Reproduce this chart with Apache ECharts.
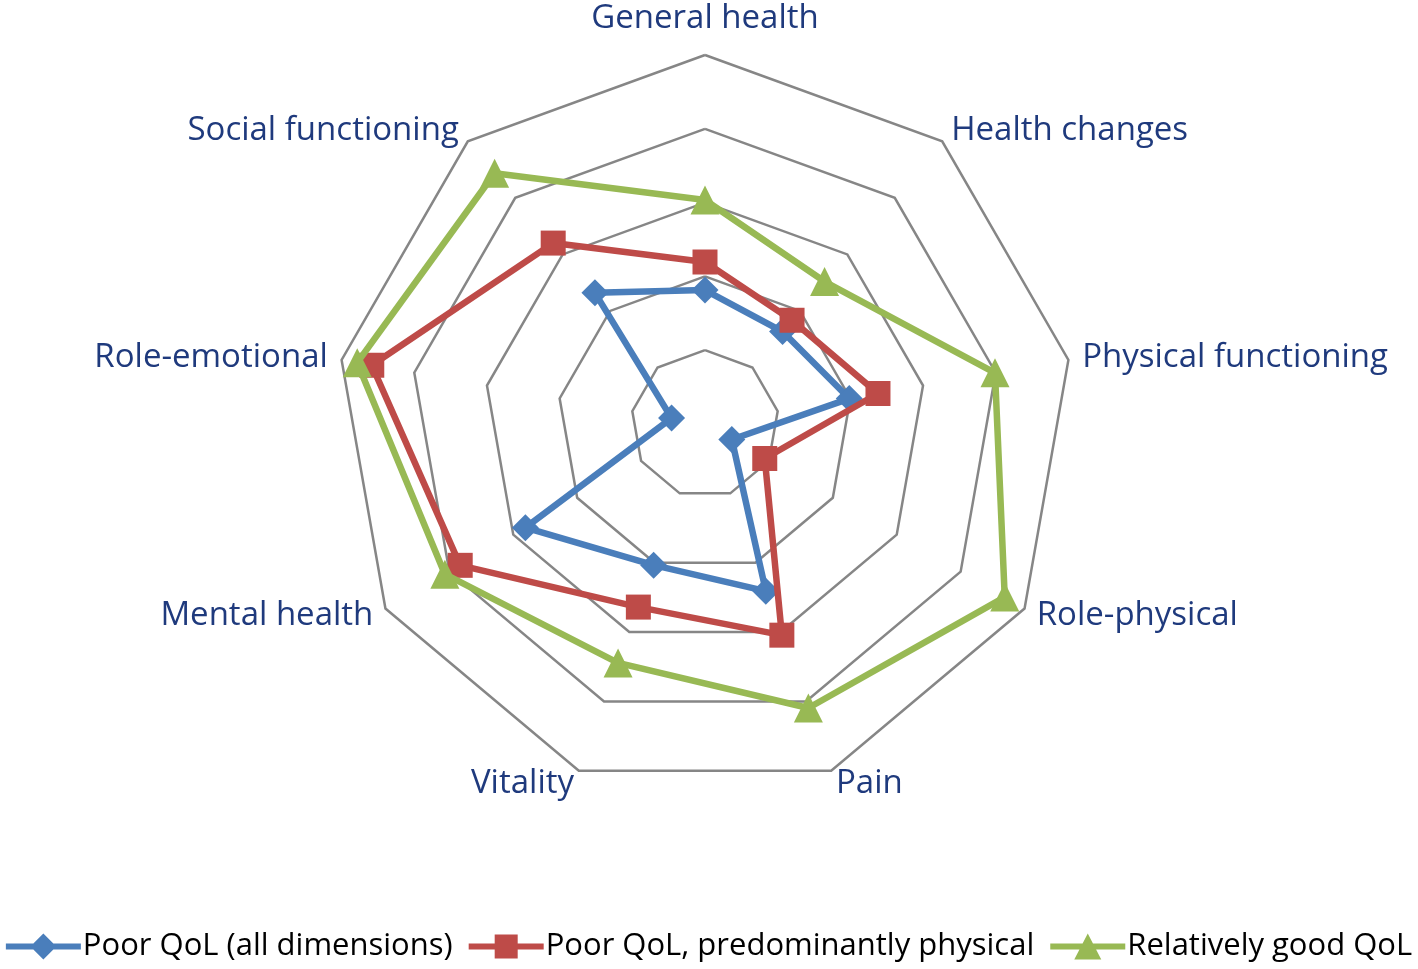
<!DOCTYPE html>
<html>
<head>
<meta charset="utf-8">
<script src="https://cdn.jsdelivr.net/npm/echarts@6/dist/echarts.min.js"></script>
<style>
html,body{margin:0;padding:0;background:#fff;}
#chart{width:1418px;height:969px;}
</style>
</head>
<body>
<div id="chart"></div>
<script>
// Dimensions in clockwise order starting at top
const dimensions = ['General health','Health changes','Physical functioning','Role-physical','Pain','Vitality','Mental health','Role-emotional','Social functioning'];
const seriesNames = ['Poor QoL (all dimensions)','Poor QoL, predominantly physical','Relatively good QoL'];
const poorAll = [36.3, 32.7, 39.7, 8.4, 48.2, 40.7, 56.2, 9.2, 46.4];
const poorPhysical = [43.9, 36.7, 47.6, 18.7, 60.9, 52.8, 76.6, 91.7, 64.0];
const relativelyGood = [60.7, 50.4, 79.8, 93.8, 81.9, 68.9, 81.4, 95.7, 88.7];
const axisMax = 100;

// ECharts lays indicators counter-clockwise; reorder so they run clockwise.
function toCCW(arr){ return [arr[0]].concat(arr.slice(1).reverse()); }

const colors = ['#4A7EBB','#BE4B48','#98B954'];
const symbols = ['diamond','rect','triangle'];
const symbolSizes = [27, 25, 29];
const legendIcons = [
  'path://M0 10 L75 10 L75 16 L0 16 Z M37.5 0 L50.5 13 L37.5 26 L24.5 13 Z',
  'path://M0 10 L75 10 L75 16 L0 16 Z M26 1 L49 1 L49 25 L26 25 Z',
  'path://M0 10 L75 10 L75 16 L0 16 Z M37.5 0 L51 26 L24 26 Z'
];
const values = [poorAll, poorPhysical, relativelyGood];
const FONT = 'Open Sans';
const LABEL_COLOR = '#1F3A7D';

const chart = echarts.init(document.getElementById('chart'), null, {renderer:'canvas'});
chart.setOption({
  animation:false,
  backgroundColor:'#ffffff',
  legend:{
    bottom:2,
    left:'center',
    itemWidth:75,
    itemHeight:26,
    itemGap:16,
    textStyle:{fontFamily:FONT, fontSize:31, color:'#000000', padding:[0,0,0,-3]},
    data: seriesNames.map((n,i)=>({name:n, icon:legendIcons[i], itemStyle:{color:colors[i]}}))
  },
  radar:{
    center:[705,424],
    radius:369,
    startAngle:90,
    splitNumber:5,
    shape:'polygon',
    nameGap:14,
    axisName:{
      color:LABEL_COLOR, fontFamily:FONT, fontSize:33,
      formatter:function(name){ return name === dimensions[0] ? '{top|' + name + '}' : name; },
      rich:{top:{color:LABEL_COLOR, fontFamily:FONT, fontSize:33, padding:[0,0,6,0]}}
    },
    splitLine:{lineStyle:{color:'#868686', width:2.5}},
    splitArea:{show:false},
    axisLine:{show:false},
    axisTick:{show:false},
    axisLabel:{show:false},
    indicator: toCCW(dimensions).map(d=>({name:d, min:0, max:axisMax}))
  },
  series: seriesNames.map((n,i)=>({
    type:'radar',
    name:n,
    z: 2+i,
    data:[{
      name:n,
      value:toCCW(values[i]),
      symbol:symbols[i],
      symbolSize:symbolSizes[i],
      lineStyle:{color:colors[i], width:6.5},
      itemStyle:{color:colors[i]}
    }]
  }))
});
</script>
</body>
</html>
